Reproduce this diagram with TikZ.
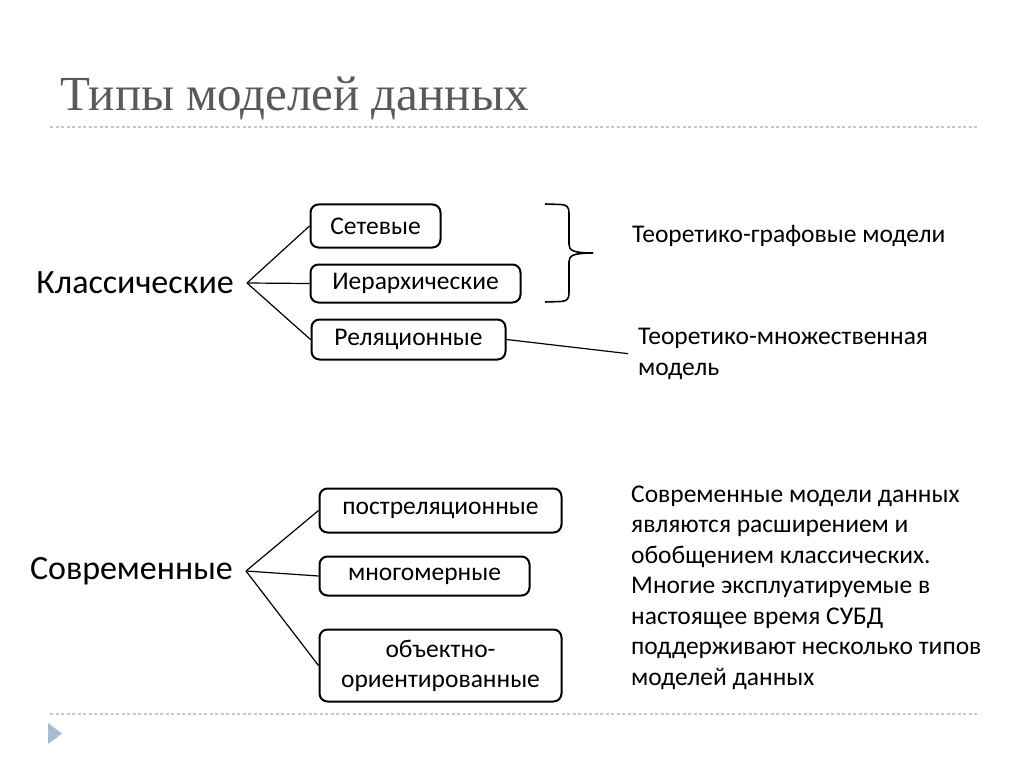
\documentclass[tikz,border=0pt]{standalone}
\usepackage{fontspec}
\setmainfont{Carlito}
\newfontfamily\titlefont{Liberation Serif}
\usetikzlibrary{positioning}
\definecolor{titlegray}{HTML}{595959}
\definecolor{rulegray}{HTML}{C8C8C8}
\definecolor{markblue}{HTML}{A5BDD3}

\tikzset{
  model/.style={draw,line width=2pt,rounded corners=8pt,inner sep=0pt,
    align=center,font=\fontsize{25.5}{30}\selectfont},
  group/.style={inner xsep=13pt,inner ysep=0pt,font=\fontsize{34}{38}\selectfont},
  note/.style={align=left,inner xsep=10pt,inner ysep=0pt,font=\fontsize{25.5}{30.5}\selectfont},
  fan/.style={line width=1.2pt},
  brace line/.style={line width=1.6pt,line join=round},
  slide rule/.style={rulegray,line width=2pt,dash pattern=on 3pt off 2.5pt}
}

\begin{document}
\begin{tikzpicture}[x=1pt,y=-1pt]
\useasboundingbox[fill=white] (0,0) rectangle (1024,767);

% title and slide frame
\node (title) [anchor=base west,inner sep=0pt,titlegray,
  font=\titlefont\fontsize{49}{52}\selectfont] at (60,111) {Типы моделей данных};
\draw[slide rule] (50,127) -- (977,127);
\draw[slide rule] (50,714) -- (977,714);
\fill[markblue] (48,723) -- (62,733.5) -- (48,744) -- cycle;

% classic models
\node (klass) [group,anchor=east] at (247,283) {Классические};
\node (set) [model,minimum width=130,minimum height=43] at (375.5,226) {Сетевые};
\node (ierarh) [model,minimum width=210,minimum height=38,
  below=15pt of set.south west,anchor=north west] {Иерархические};
\node (rel) [model,minimum width=194,minimum height=40,
  below=15pt of ierarh.south west,anchor=north west,xshift=1pt] {Реляционные};

\draw[fan] (klass.east) -- (set.west);
\draw[fan] (klass.east) -- (ierarh.west);
\draw[fan] (klass.east) -- (rel.west);

\coordinate (brtop) at (545,204);
\coordinate (brbot) at (545,302);
\coordinate (brtip) at (593,253);
\draw[brace line] (brtop) -- (561,204.5) .. controls (567,205) and (569,207) .. (569,213)
  -- (569,244) .. controls (569,250) and (572,253) .. (brtip);
\draw[brace line] (brbot) -- (561,301.5) .. controls (567,301) and (569,299) .. (569,293)
  -- (569,262) .. controls (569,256) and (572,253) .. (brtip);
\node (tgraf) [note,anchor=base west] at (622,243) {Теоретико-графовые модели};
\node (tmn) [note,anchor=base west] at (628,375) {Теоретико-множественная\\модель};
\draw[fan] (rel.east) -- (tmn.west);

% modern models
\node (sovr) [group,anchor=east] at (246,571) {Современные};
\node (post) [model,minimum width=242,minimum height=44] at (440.5,510.5) {постреляционные};
\node (mnog) [model,minimum width=210,minimum height=39,
  below=22pt of post.south west,anchor=north west] {многомерные};
\node (obj) [model,minimum width=242,minimum height=72,
  below=32pt of mnog.south west,anchor=north west] {объектно-\\ориентированные};

\draw[fan] (sovr.east) -- (post.west);
\draw[fan] (sovr.east) -- (mnog.west);
\draw[fan] (sovr.east) -- (obj.west);

\node (about) [note,anchor=base west] at (621,685) {Современные модели данных\\являются расширением и\\обобщением классических.\\Многие эксплуатируемые в\\настоящее время СУБД\\поддерживают несколько типов\\моделей данных};
\end{tikzpicture}
\end{document}
